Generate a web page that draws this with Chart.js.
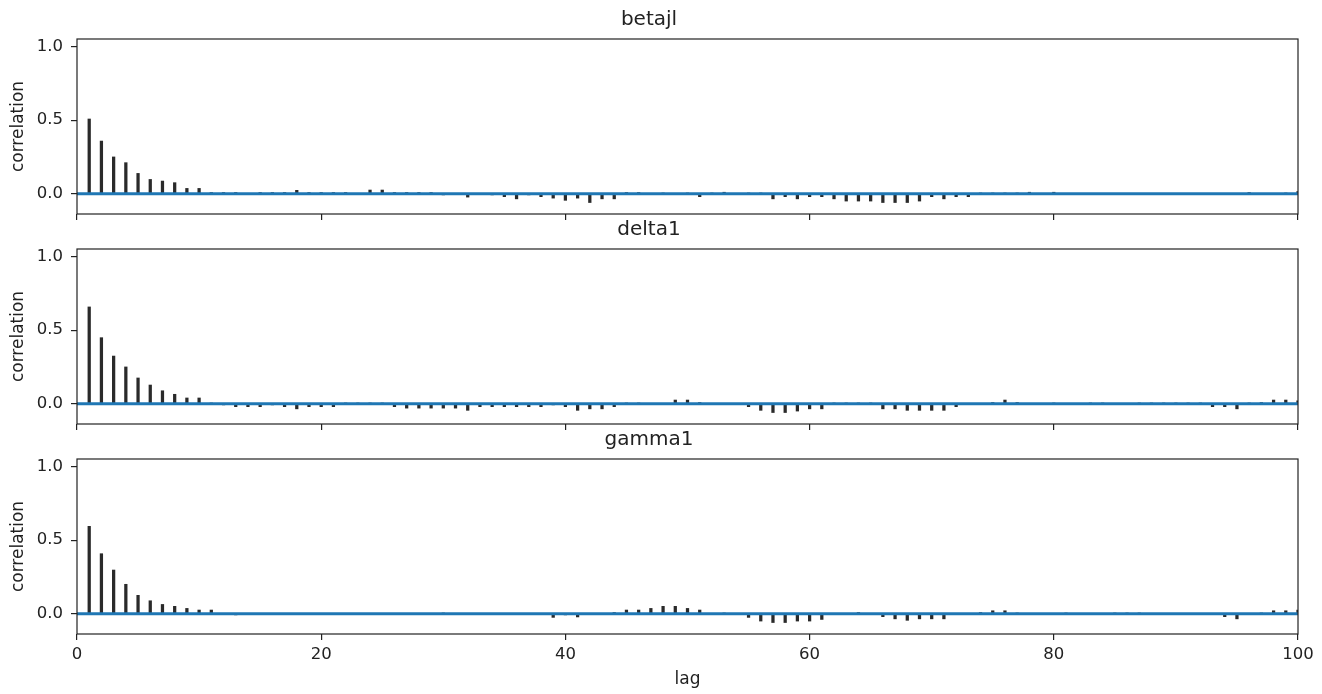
<!DOCTYPE html>
<html lang="en">
<head>
  <meta charset="UTF-8">
  <title>Autocorrelation</title>
  <style>
    body, html { margin:0; padding:0; overflow:hidden; background:#fff; }
    #wrap { position:relative; width:1322px; height:694px; }
    #wrap canvas { position:absolute; left:0; }
  </style>
</head>
<body>
  <div id="wrap">
    <canvas id="c1" width="1322" height="224" style="top:0px"></canvas>
    <canvas id="c2" width="1322" height="224" style="top:210px"></canvas>
    <canvas id="c3" width="1322" height="274" style="top:420px"></canvas>
  </div>

  <script src="https://cdn.jsdelivr.net/npm/chart.js"></script>
  <script>
    // lags 1..100
    const lags = Array.from({length: 100}, (_, i) => i + 1);
    const xTicks = [0, 20, 40, 60, 80, 100];
    const yTicks = [0, 0.5, 1.0];

    const betajl = [
      0.508, 0.358, 0.25, 0.211, 0.138, 0.097, 0.086, 0.075, 0.036, 0.036,
      0.008, 0.008, 0.008, 0, 0.008, 0.008, 0.008, 0.023, 0.008, 0.008,
      0.008, 0.008, 0, 0.025, 0.025, 0.008, 0.008, 0.008, 0.008, -0.008,
      0, -0.023, 0, -0.008, -0.02, -0.035, -0.008, -0.02, -0.03, -0.045,
      -0.03, -0.06, -0.035, -0.035, 0.008, 0.008, 0, 0.005, 0, 0.005,
      -0.02, 0.005, 0.01, 0, 0.005, 0.005, -0.035, -0.02, -0.035, -0.02,
      -0.02, -0.035, -0.05, -0.05, -0.05, -0.06, -0.06, -0.06, -0.05, -0.02,
      -0.035, -0.02, -0.02, 0.005, 0.005, 0.005, 0.005, 0.01, 0, 0.01,
      0, 0, 0, 0, -0.005, 0, 0, 0, 0, 0,
      0, 0, -0.005, -0.005, 0, 0.008, 0, 0, 0.005, 0.015
    ];
    const delta1 = [
      0.658, 0.449, 0.324, 0.25, 0.175, 0.127, 0.088, 0.064, 0.039, 0.039,
      0.005, -0.008, -0.02, -0.02, -0.02, -0.008, -0.02, -0.035, -0.02, -0.02,
      -0.02, 0.005, 0.005, 0.005, 0.005, -0.02, -0.03, -0.03, -0.03, -0.03,
      -0.03, -0.045, -0.02, -0.02, -0.02, -0.02, -0.02, -0.02, -0.008, -0.02,
      -0.045, -0.035, -0.035, -0.02, 0.005, 0.005, 0, 0, 0.025, 0.025,
      0.008, 0, 0, -0.005, -0.02, -0.045, -0.06, -0.06, -0.05, -0.035,
      -0.035, 0.005, 0.005, 0.005, 0.005, -0.035, -0.035, -0.045, -0.045, -0.045,
      -0.045, -0.02, 0, 0, 0.008, 0.025, 0.008, 0, 0, 0.005,
      0, 0, 0.005, 0.005, 0, 0, 0.005, 0.005, 0.005, 0.005,
      0.005, 0.005, -0.02, -0.02, -0.035, 0.005, 0.008, 0.025, 0.025, 0.02
    ];
    const gamma1 = [
      0.594, 0.408, 0.297, 0.2, 0.125, 0.088, 0.063, 0.05, 0.036, 0.025,
      0.025, 0, -0.008, 0, 0, 0, -0.005, -0.005, 0, -0.005,
      -0.005, 0, 0, 0, 0, -0.005, -0.005, -0.005, 0, 0.005,
      0, 0, -0.005, 0, 0, -0.005, -0.005, -0.005, -0.025, -0.008,
      -0.022, -0.005, 0, 0.008, 0.025, 0.025, 0.036, 0.05, 0.05, 0.036,
      0.025, 0, 0.005, 0, -0.025, -0.05, -0.06, -0.06, -0.05, -0.05,
      -0.039, 0, 0, 0.008, -0.005, -0.02, -0.035, -0.045, -0.035, -0.035,
      -0.035, -0.005, 0, 0.008, 0.02, 0.02, 0.005, 0, -0.005, 0,
      0.005, 0, 0, 0, 0.005, 0.005, 0.005, 0, -0.005, 0,
      -0.005, -0.005, -0.005, -0.02, -0.035, 0, 0.005, 0.02, 0.02, 0.025
    ];

    const FONT = 'DejaVu Sans';
    const TXT = '#222';

    // draw the box around each plot area
    const frame = {
      id: 'frame',
      afterDraw(chart) {
        const {ctx, chartArea: a} = chart;
        ctx.save();
        ctx.strokeStyle = '#222';
        ctx.lineWidth = 1.2;
        ctx.strokeRect(a.left, a.top, a.right - a.left, a.bottom - a.top);
        ctx.restore();
      }
    };

    function acfChart(id, name, vals, bottom, xHeight){
      return new Chart(document.getElementById(id), {
        type: 'bar',
        data: {
          datasets: [
            { type: 'line', data: [{x: 0, y: 0}, {x: 100, y: 0}], borderColor: '#1f77b4',
              borderWidth: 3, pointRadius: 0, order: 0 },
            { data: lags.map((l, i) => ({x: l, y: vals[i]})), backgroundColor: '#2a2a2a',
              barThickness: 2.6, grouped: false, order: 1 }
          ]
        },
        options: {
          responsive: false, animation: false,
          layout: { padding: { left: 0, right: 24, top: 0, bottom: 0 } },
          plugins: {
            legend: { display: false }, tooltip: { enabled: false },
            title: { display: true, text: name, color: TXT, font: { family: FONT, size: 20, weight: 'normal' },
                     padding: { top: 8, bottom: 7 } }
          },
          scales: {
            x: {
              type: 'linear', min: 0, max: 100, offset: false,
              afterBuildTicks: s => { s.ticks = xTicks.map(v => ({value: v})); },
              grid: { offset: false, drawOnChartArea: false, drawTicks: true, tickLength: 6, color: '#222', lineWidth: 1.2 },
              border: { display: false },
              ticks: { display: bottom, color: TXT, font: { family: FONT, size: 16.5 }, padding: 5, maxRotation: 0 },
              title: { display: bottom, text: 'lag', color: TXT, font: { family: FONT, size: 17 }, padding: { top: 0, bottom: 4 } },
              afterFit: s => { s.height = xHeight; }
            },
            y: {
              min: -0.138, max: 1.052,
              afterBuildTicks: s => { s.ticks = yTicks.map(v => ({value: v})); },
              grid: { drawOnChartArea: false, drawTicks: true, tickLength: 6, color: '#222', lineWidth: 1.2 },
              border: { display: false },
              ticks: { color: TXT, font: { family: FONT, size: 16.5 }, padding: 8, callback: v => v.toFixed(1) },
              title: { display: true, text: 'correlation', color: TXT, font: { family: FONT, size: 17 }, padding: { top: 8, bottom: 0 } },
              afterFit: s => { s.width = 77; s.paddingTop = 0; s.paddingBottom = 0; }
            }
          }
        },
        plugins: [frame]
      });
    }

    acfChart('c1', 'betajl', betajl, false, 10);
    acfChart('c2', 'delta1', delta1, false, 10);
    acfChart('c3', 'gamma1', gamma1, true, 60);
  </script>
</body>
</html>
